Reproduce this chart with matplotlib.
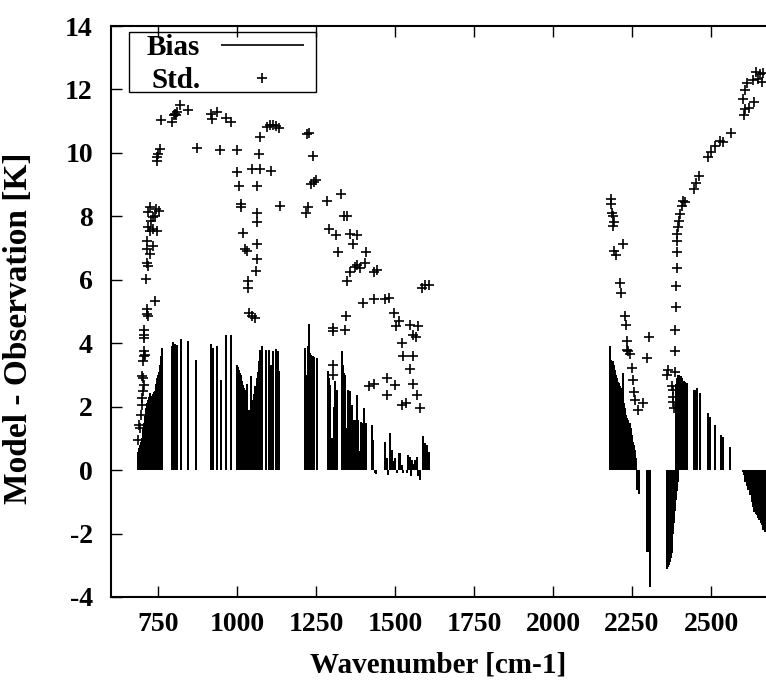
import matplotlib
matplotlib.use("Agg")
import matplotlib.pyplot as plt
from matplotlib.patches import Rectangle

# bias (model - obs) per channel, drawn as impulses
bias_wn = [688, 691, 694, 697, 700, 703, 706, 709, 712, 715, 718, 721, 725, 728, 731, 734, 737, 740,
           743, 746, 749, 752, 755, 758, 760, 762,
           793, 798, 804, 809, 822, 846, 870, 918, 923, 938, 948, 965, 980,
           999, 1002, 1005, 1008, 1011, 1014, 1017, 1020, 1023, 1026, 1031, 1035, 1038, 1041, 1044,
           1048, 1052, 1055, 1058, 1062, 1065, 1068, 1071, 1074, 1078,
           1092, 1102, 1108, 1115, 1122, 1129, 1134,
           1215, 1218, 1221, 1225, 1228, 1231, 1234, 1238, 1241, 1245, 1252,
           1287, 1290, 1294, 1302, 1306, 1310, 1315, 1331, 1334, 1337, 1342, 1347, 1352, 1355,
           1358, 1363, 1366, 1368, 1373, 1376, 1379, 1381, 1384, 1388, 1391, 1394, 1397, 1400,
           1402, 1405, 1407, 1426, 1431, 1437, 1441, 1468, 1474, 1477, 1484, 1490, 1495, 1500,
           1505, 1511, 1516, 1521, 1526, 1537, 1542, 1548, 1550, 1553, 1558, 1563, 1569, 1574,
           1579, 1588, 1595, 1600, 1606,
           2179, 2181, 2184, 2186, 2189, 2191, 2193, 2196, 2199, 2201, 2204, 2207, 2210, 2212,
           2214, 2217, 2221, 2223, 2226, 2229, 2231, 2234, 2237, 2240, 2242, 2244, 2247, 2250,
           2252, 2255, 2258, 2260, 2262,
           2267, 2273, 2297, 2302, 2307,
           2362, 2365, 2367, 2370, 2373, 2376, 2378, 2381, 2383, 2386, 2388, 2391, 2394,
           2389, 2392, 2394, 2397, 2399, 2402, 2404, 2407, 2409, 2412, 2415, 2418, 2420, 2425,
           2446, 2452, 2457, 2465, 2490, 2497, 2513, 2531, 2539, 2560,
           2600, 2603, 2606, 2608, 2613, 2618, 2623, 2629, 2632, 2636, 2641, 2645, 2649, 2653,
           2657, 2661, 2666, 2670]
bias_k = [0.58, 0.7, 0.8, 0.9, 1.0, 1.3, 1.5, 1.7, 1.95, 2.1, 2.2, 2.3, 2.43, 2.3, 2.35, 2.4, 2.45, 2.5,
          2.7, 2.9, 3.0, 3.1, 3.3, 3.45, 3.6, 3.85,
          3.9, 4.04, 3.97, 3.95, 4.12, 4.07, 3.48, 3.97, 3.85, 3.9, 2.85, 4.25, 4.25,
          3.32, 3.25, 3.15, 3.05, 3.0, 2.9, 2.8, 2.69, 2.6, 2.53, 2.7, 1.9, 1.9, 1.9, 2.96,
          2.2, 2.22, 2.4, 2.64, 2.9, 3.1, 3.43, 3.6, 3.8, 3.9,
          3.8, 3.8, 3.32, 3.75, 3.82, 3.75, 3.11,
          3.85, 3.0, 2.71, 3.9, 4.61, 3.7, 3.64, 3.6, 3.59, 3.55, 3.54,
          3.11, 2.9, 2.69, 1.0, 2.0, 2.8, 2.53, 3.75, 3.3, 3.06, 3.0, 1.32, 2.53, 1.2,
          2.48, 2.06, 1.0, 1.58, 1.58, 0.8, 2.37, 1.1, 1.58, 0.6, 1.53, 1.0, 1.48, 0.8,
          1.95, 0.7, 1.48, 1.43, 0.95, -0.08, -0.12, 0.9, 0.37, -0.15, 1.16, 0.63, 0.3, 0.37,
          -0.1, 0.53, 0.53, 0.16, -0.1, -0.1, 0.48, 0.42, -0.2, 0.32, 0.2, 0.32, 0.42, -0.2,
          -0.32, 1.06, 0.84, 0.79, 0.58,
          3.9, 3.7, 3.48, 3.45, 3.43, 3.35, 3.32, 3.15, 3.0, 2.9, 2.8, 2.78, 2.74, 2.65,
          2.59, 2.4, 3.06, 2.3, 2.11, 1.95, 1.74, 1.65, 1.58, 1.5, 1.48, 1.4, 1.32, 1.1,
          0.9, 0.8, 0.63, 0.5, 0.37,
          -0.63, -0.74, -2.58, -2.58, -3.69,
          -3.11, -3.05, -3.0, -2.9, -2.78, -2.6, -2.42, -2.0, -1.68, -1.3, -0.95, -0.65, -0.37,
          2.7, 2.9, 2.96, 3.0, 3.0, 2.98, 2.96, 2.9, 2.85, 2.82, 2.8, 2.77, 2.74, 2.74,
          2.53, 2.53, 2.59, 2.43, 1.79, 1.69, 1.43, 1.11, 1.05, 0.74,
          -0.05, -0.15, -0.3, -0.37, -0.5, -0.63, -0.8, -1.0, -1.15, -1.32, -1.38, -1.42, -1.5, -1.58,
          -1.66, -1.74, -1.9, -1.95]

# standard deviation per channel, drawn as '+'
std_wn = [688, 693, 691, 695, 698, 698, 701, 704, 701, 698, 701, 706, 704, 709, 706, 704, 706,
          714, 719, 716, 740, 712, 719, 714, 723, 716, 735, 714, 723, 719, 735, 746, 727, 735,
          740, 754, 719, 725, 744, 746, 746, 751, 756, 758, 793, 801, 804, 809, 807, 820, 846,
          872, 917, 920, 936, 965, 980, 946, 999, 999, 1007, 1012, 1012, 1018, 1025, 1031, 1036,
          1036, 1039, 1046, 1057, 1046, 1073, 1107, 1068, 1071, 1094, 1104, 1115, 1123, 1134,
          1064, 1062, 1062, 1062, 1062, 1060, 1136, 1221, 1229, 1240, 1233, 1242, 1250, 1223,
          1218, 1286, 1328, 1339, 1347, 1292, 1313, 1356, 1381, 1368, 1318, 1408, 1347, 1356,
          1374, 1381, 1389, 1405, 1432, 1442, 1398, 1434, 1468, 1482, 1497, 1511, 1503, 1548,
          1574, 1558, 1567, 1521, 1526, 1558, 1548, 1556, 1571, 1579, 1535, 1521, 1474, 1500,
          1474, 1434, 1419, 1345, 1342, 1303, 1303, 1303, 1305, 1584, 1595, 1606,
          2182, 2182, 2186, 2191, 2193, 2189, 2223, 2193, 2199, 2212, 2214, 2228, 2231, 2233,
          2238, 2244, 2235, 2305, 2298, 2249, 2252, 2256, 2259, 2270, 2284, 2365, 2362, 2386,
          2375, 2381, 2379, 2381, 2383, 2386, 2386, 2389, 2389, 2391, 2391, 2393, 2393, 2397,
          2400, 2402, 2407, 2410, 2418, 2446, 2452, 2463, 2492, 2499, 2513, 2528, 2539, 2562,
          2604, 2608, 2621, 2602, 2608, 2636, 2613, 2634, 2642, 2650, 2655, 2660, 2664]
std_k = [0.95, 1.32, 1.43, 1.74, 2.06, 2.27, 2.48, 2.69, 2.9, 2.96, 3.43, 3.59, 3.75, 3.64, 4.17,
         4.27, 4.43, 4.91, 4.85, 5.07, 5.33, 6.01, 6.44, 6.54, 6.81, 6.96, 7.07, 7.23, 7.54, 7.65,
         7.6, 7.54, 7.86, 7.97, 8.02, 8.18, 8.13, 8.28, 8.23, 9.86, 9.76, 9.97, 10.13, 11.03,
         10.97, 11.18, 11.24, 11.29, 11.18, 11.5, 11.36, 10.16, 11.24, 11.08, 11.29, 11.11, 10.97,
         10.1, 10.1, 9.39, 8.97, 8.39, 8.28, 7.49, 6.96, 6.91, 5.96, 5.75, 4.96, 4.85, 4.8, 9.5,
         9.5, 9.42, 9.97, 10.5, 10.81, 10.87, 10.87, 10.84, 10.79, 8.97, 8.12, 7.81, 7.12, 6.65,
         6.28, 8.34, 10.6, 10.62, 9.9, 9.02, 9.07, 9.15, 8.3, 8.12, 8.49, 8.7, 8.02, 8.02, 7.6,
         7.42, 7.44, 7.42, 7.14, 6.89, 6.89, 5.96, 6.23, 6.41, 6.47, 6.36, 6.54, 6.26, 6.3, 5.28,
         5.38, 5.38, 5.43, 4.96, 4.7, 4.54, 4.59, 4.54, 4.27, 4.19, 4.01, 3.59, 3.59, 3.2, 2.71,
         2.38, 1.95, 2.11, 2.06, 2.9, 2.69, 2.38, 2.71, 2.64, 4.85, 4.43, 4.49, 4.38, 3.32, 2.99,
         5.75, 5.83, 5.85,
         8.55, 8.39, 8.12, 8.02, 7.81, 7.7, 7.14, 6.91, 6.78, 5.91, 5.59, 4.85, 4.59, 4.08, 3.75,
         3.66, 3.8, 4.19, 3.54, 3.22, 2.85, 2.46, 2.22, 1.9, 2.11, 3.17, 3.01, 3.09, 2.64, 2.53,
         2.32, 2.16, 1.95, 3.77, 4.43, 5.14, 5.8, 6.38, 6.86, 7.23, 7.44, 7.65, 7.86, 8.07, 8.34,
         8.49, 8.44, 8.86, 9.04, 9.28, 9.86, 10.02, 10.23, 10.39, 10.34, 10.62, 11.18, 11.39,
         11.43, 11.71, 11.97, 11.61, 12.19, 12.29, 12.55, 12.34, 12.5, 12.24, 12.52]

xticks = [750, 1000, 1250, 1500, 1750, 2000, 2250, 2500]
yticks = [-4, -2, 0, 2, 4, 6, 8, 10, 12, 14]

plt.rcParams['font.family'] = ['Liberation Serif', 'DejaVu Serif']
plt.rcParams['font.weight'] = 'bold'
plt.rcParams['font.size'] = 20
plt.rcParams['axes.unicode_minus'] = False

W, H = 766, 688
fig = plt.figure(figsize=(W / 100, H / 100), dpi=100)
ax = fig.add_axes([111 / W, 1 - 597 / H, 1 - 111 / W, (597 - 26) / H])

ax.vlines(bias_wn, 0, bias_k, colors='k', linewidth=1.2, antialiased=False, label='Bias')
ax.plot(std_wn, std_k, '+', color='k', markersize=7, markeredgewidth=1.2, label='Std.')

ax.set_xlim(601, 2674)
ax.set_ylim(-4, 14)
ax.set_xticks(xticks)
ax.set_yticks(yticks)
ax.tick_params(direction='in', length=8, width=1, top=True, right=False)
ax.tick_params(axis='x', pad=11)
ax.tick_params(axis='y', pad=13)
for s in ['left', 'bottom', 'top']:
    ax.spines[s].set_linewidth(1.5)
ax.spines['right'].set_visible(False)

ax.set_xlabel('Wavenumber [cm-1]', fontweight='bold', fontsize=21, labelpad=10)
ax.set_ylabel('Model - Observation [K]', fontweight='bold', fontsize=24)
ax.yaxis.set_label_coords(-0.118, 0.47)

# legend: text on the left, sample on the right, square black box
leg = ax.legend(loc='upper left', bbox_to_anchor=(147 / W, 1 - 34 / H), bbox_transform=fig.transFigure,
                markerfirst=False, frameon=False, handlelength=2.85, borderpad=0, labelspacing=0.2,
                handletextpad=0.7, borderaxespad=0, fontsize=21)
fig.patches.append(Rectangle((129 / W, 1 - 92 / H), (316 - 129) / W, 60 / H, transform=fig.transFigure,
                             fill=False, edgecolor='k', linewidth=1.0))

plt.savefig('out.png', dpi=100)
plt.close()
